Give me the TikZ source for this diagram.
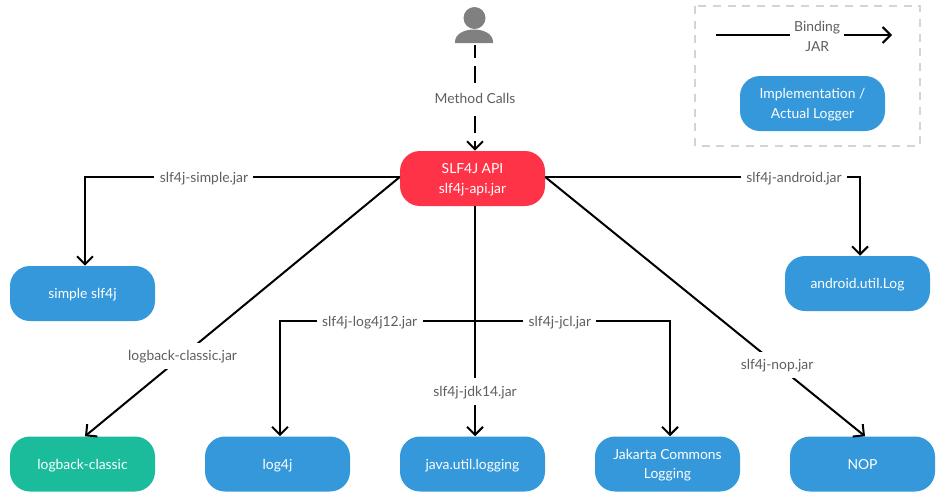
\documentclass[tikz,border=0pt]{standalone}
\usepackage{fontspec}
\setmainfont{Lato}
\usetikzlibrary{arrows.meta}
\definecolor{implblue}{HTML}{3498DB}
\definecolor{apired}{HTML}{FF3347}
\definecolor{logbackgreen}{HTML}{1ABC9C}
\definecolor{labelgray}{HTML}{5F5F5F}
\definecolor{persongray}{HTML}{808080}
\definecolor{framegray}{HTML}{D4D4D4}
\newcommand\linestrut{\rule[-3pt]{0pt}{13.5pt}}
\tikzset{
  x=0.75pt,y=-0.75pt,
  box/.style={rounded corners=15pt,minimum width=108.75pt,minimum height=41.25pt,inner sep=0pt,align=center,text=white,font=\fontsize{10.4pt}{14.4pt}\selectfont},
  implbox/.style={box,fill=implblue},
  link/.style={line width=1.5pt,draw=black,-{Straight Barb[length=6pt,width=12pt,line width=1.5pt]}},
  tag/.style={fill=white,text=labelgray,inner xsep=4pt,inner ysep=3.25pt,align=center,font=\fontsize{10.4pt}{14.4pt}\selectfont},
}
\def\offx{1.875pt}
\begin{document}
\begin{tikzpicture}
\useasboundingbox[fill=white] (0,0) rectangle (945,497);
% nodes
\node[box,fill=apired] (api) at (472.5,178.5) {\linestrut SLF4J API\\\linestrut slf4j-api.jar};
\node[implbox] (simple) at (82.5,293.5) {\linestrut simple slf4j};
\node[implbox] (android) at (857.5,283.5) {\linestrut android.util.Log};
\node[box,fill=logbackgreen] (logback) at (82.5,464) {\linestrut logback-classic};
\node[implbox] (log4j) at (277.5,464) {\linestrut log4j};
\node[implbox] (jul) at (472.5,464) {\linestrut java.util.logging};
\node[implbox] (jcl) at (667.5,464) {\linestrut Jakarta Commons\\\linestrut Logging};
\node[implbox] (nop) at (862.5,464) {\linestrut NOP};
\node[implbox] (impl) at (812.5,103.5) {\linestrut Implementation /\\\linestrut Actual Logger};
% person
\fill[persongray] (474.5,18) circle[radius=11];
\fill[persongray] (455,43) -- (455,42) .. controls (455,34) and (464,29.5) .. (474,29.5) .. controls (484,29.5) and (493,34) .. (493,42) -- (493,43) -- cycle;
\coordinate (person) at (475,45);
% legend frame
\draw[framegray,line width=1.5pt,dash pattern=on 6pt off 5pt] (695,6) rectangle (920,146);
% connectors
\coordinate (apiL) at ([yshift=1.1pt]api.west);
\coordinate (apiR) at ([yshift=1.1pt]api.east);
\coordinate (apiB) at ([xshift=\offx]api.south);
\coordinate (junction) at (475,321);
\coordinate (legendA) at (716,35);
\coordinate (legendB) at (892,35);
\draw[link,dash pattern=on 12.4pt off 6.4pt,dash phase=3pt] (person) -- ([xshift=\offx]api.north) node[tag,pos=0.51] {\linestrut Method Calls};
\draw[link] (apiL) -| ([xshift=\offx]simple.north) node[tag,pos=0.311] {\linestrut slf4j-simple.jar};
\draw[link] (apiR) -| ([xshift=\offx]android.north) node[tag,pos=0.395] {\linestrut slf4j-android.jar};
\draw[link] (apiL) -- ([xshift=\offx]logback.north) node[tag,pos=0.69] {\linestrut logback-classic.jar};
\draw[link] (apiR) -- ([xshift=\offx]nop.north) node[tag,pos=0.725] {\linestrut slf4j-nop.jar};
\draw[link] (apiB) -- ([xshift=\offx]jul.north) node[tag,pos=0.805] {\linestrut slf4j-jdk14.jar};
\draw[link] (junction) -| ([xshift=\offx]log4j.north) node[tag,pos=0.27] {\linestrut slf4j-log4j12.jar};
\draw[link] (junction) -| ([xshift=\offx]jcl.north) node[tag,pos=0.2176] {\linestrut slf4j-jcl.jar};
\draw[link] (legendA) -- (legendB) node[tag,pos=0.575,inner xsep=3pt,inner ysep=0pt,yshift=-1.1pt] {\linestrut Binding\\\linestrut JAR};
\end{tikzpicture}
\end{document}
